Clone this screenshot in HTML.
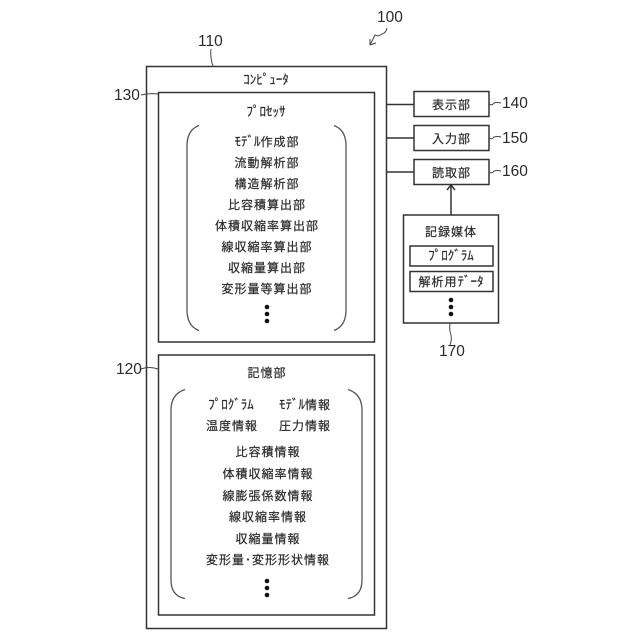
<!DOCTYPE html>
<html><head><meta charset="utf-8">
<style>
html,body{margin:0;padding:0;background:#fff}
svg{display:block}
text{font-family:"Liberation Sans","Noto Sans CJK JP",sans-serif;fill:#2a2a2a;stroke:#2a2a2a;stroke-width:.2}
.j{font-size:12px;letter-spacing:1px;text-anchor:middle}
.h{font-size:13px;text-anchor:middle}
.n{font-size:15.5px;stroke-width:0}
.b{fill:none;stroke:#333;stroke-width:1.5}
.t{fill:none;stroke:#444;stroke-width:1}
.c{fill:none;stroke:#555;stroke-width:1.3}
</style></head><body>
<svg width="640" height="640" viewBox="0 0 640 640" xmlns="http://www.w3.org/2000/svg">
<rect width="640" height="640" fill="#fff"/>
<rect class="b" x="146.500" y="66.500" width="240" height="562"/>
<rect class="b" x="158.500" y="92.500" width="216" height="249.500"/>
<rect class="b" x="158.500" y="355" width="216" height="260"/>
<rect class="b" x="414" y="91.500" width="75" height="25"/>
<rect class="b" x="414" y="125.500" width="75" height="25"/>
<rect class="b" x="414" y="159.500" width="75" height="25"/>
<rect class="b" x="403.500" y="215" width="95" height="108"/>
<rect class="b" x="410" y="246" width="83" height="20"/>
<rect class="b" x="410" y="271.500" width="83" height="20"/>
<path class="b" d="M386 104.500H414M386 138H414M386 172H414M451 215V186"/>
<path class="b" d="M447 190L451 185L455 190"/>
<path class="c" d="M199 125.500Q187 130 187 146V310Q187 326 199 330.500"/>
<path class="c" d="M334 125.500Q346 130 346 146V310Q346 326 334 330.500"/>
<path class="c" d="M185 389.500Q171 394 171 410V580Q171 596 185 598.500"/>
<path class="c" d="M348 389.500Q362 394 362 410V580Q362 596 348 598.500"/>
<path class="t" d="M211 49Q210 58 213 66M141 95Q149 93 158 94M141 369Q149 366 158 369M370 45L375 35Q378 37 382 34Q386 33 387 28M370 45L370 39M370 45L376 43"/>
<path class="t" d="M489 104Q492 106 494 103Q497 102 501 103M489 138Q492 140 494 137Q497 136 501 137M489 172Q492 174 494 171Q497 170 501 171M450 323Q449 330 451 335Q452 340 450 345"/>
<g fill="#111">
<circle cx="267" cy="307" r="2.300"/><circle cx="267" cy="314" r="2.300"/><circle cx="267" cy="321" r="2.300"/>
<circle cx="267" cy="581" r="2.300"/><circle cx="267" cy="588" r="2.300"/><circle cx="267" cy="595" r="2.300"/>
<circle cx="451" cy="300" r="2.300"/><circle cx="451" cy="307" r="2.300"/><circle cx="451" cy="314" r="2.300"/>
</g>
<text class="n" x="377" y="22">100</text>
<text class="n" x="198" y="46">110</text>
<text class="n" x="114" y="100">130</text>
<text class="n" x="116" y="374">120</text>
<text class="n" x="502" y="108">140</text>
<text class="n" x="502" y="143">150</text>
<text class="n" x="502" y="176">160</text>
<text class="n" x="439" y="356">170</text>
<text class="h" x="266" y="84">ｺﾝﾋﾟｭｰﾀ</text>
<text class="h" x="266" y="116">ﾌﾟﾛｾｯｻ</text>
<text class="j" x="267" y="146"><tspan font-size="13" letter-spacing="0">ﾓﾃﾞﾙ</tspan>作成部</text>
<text class="j" x="267" y="167">流動解析部</text>
<text class="j" x="267" y="188">構造解析部</text>
<text class="j" x="267" y="209">比容積算出部</text>
<text class="j" x="267" y="230">体積収縮率算出部</text>
<text class="j" x="267" y="251">線収縮率算出部</text>
<text class="j" x="267" y="272">収縮量算出部</text>
<text class="j" x="267" y="293">変形量等算出部</text>
<text class="j" x="267" y="377">記憶部</text>
<text class="h" x="231" y="409">ﾌﾟﾛｸﾞﾗﾑ</text>
<text class="j" x="305" y="409"><tspan font-size="13" letter-spacing="0">ﾓﾃﾞﾙ</tspan>情報</text>
<text class="j" x="232" y="430">温度情報</text>
<text class="j" x="305" y="430">圧力情報</text>
<text class="j" x="268" y="456">比容積情報</text>
<text class="j" x="268" y="478">体積収縮率情報</text>
<text class="j" x="268" y="500">線膨張係数情報</text>
<text class="j" x="268" y="521">線収縮率情報</text>
<text class="j" x="268" y="543">収縮量情報</text>
<text class="j" x="268" y="564">変形量･変形形状情報</text>
<text class="j" x="451.500" y="109">表示部</text>
<text class="j" x="451.500" y="143">入力部</text>
<text class="j" x="451.500" y="177">読取部</text>
<text class="j" x="451" y="236">記録媒体</text>
<text class="h" x="451" y="260">ﾌﾟﾛｸﾞﾗﾑ</text>
<text class="j" x="451" y="286">解析用<tspan font-size="13" letter-spacing="0">ﾃﾞｰﾀ</tspan></text>
</svg>
</body></html>
